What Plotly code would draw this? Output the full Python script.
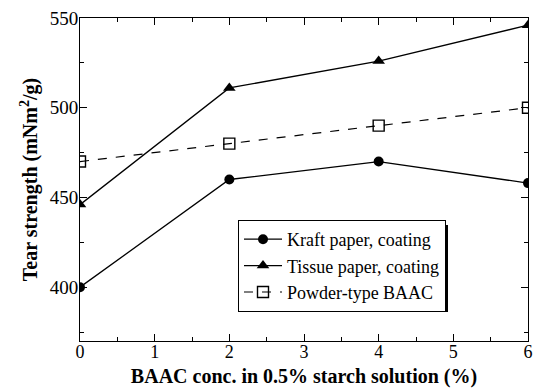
import plotly.graph_objects as go

x_conc = [0, 2, 4, 6]
kraft = [400, 460, 470, 458]
tissue = [446, 511, 526, 546]
powder = [470, 480, 490, 500]

L, R, T, B = 80, 528, 18, 341
W, H = 540, 388

def px_x(p):
    return (p - L) / (R - L)

def px_y(p):
    return (B - p) / (B - T)

fig = go.Figure()
fig.add_trace(go.Scatter(x=x_conc, y=kraft, mode="lines+markers", name="Kraft paper, coating",
                         line=dict(color="black", width=1.3),
                         marker=dict(symbol="circle", size=10, color="black")))
fig.add_trace(go.Scatter(x=x_conc, y=tissue, mode="lines+markers", name="Tissue paper, coating",
                         line=dict(color="black", width=1.3),
                         marker=dict(symbol="triangle-up", size=11, color="black")))
fig.add_trace(go.Scatter(x=x_conc, y=powder, mode="lines+markers", name="Powder-type BAAC",
                         line=dict(color="black", width=1.2, dash="dash"),
                         marker=dict(symbol="square-open", size=11, color="black", line=dict(width=1.4))))

# legend drop shadow
fig.add_shape(type="rect", xref="paper", yref="paper",
              x0=px_x(241), x1=px_x(448), y0=px_y(312), y1=px_y(225),
              fillcolor="black", line=dict(width=0), layer="above")

fig.update_layout(
    width=W, height=H,
    margin=dict(l=L, r=W - R, t=T, b=H - B),
    paper_bgcolor="white", plot_bgcolor="white",
    font=dict(family="Liberation Serif", color="black", size=19),
    showlegend=True,
    legend=dict(x=px_x(238), y=px_y(220), xanchor="left", yanchor="top",
                bordercolor="black", borderwidth=1, bgcolor="white",
                font=dict(family="Liberation Serif", size=18, color="black"),
                tracegroupgap=0, itemwidth=38),
)
fig.update_xaxes(range=[0, 6], tickvals=[0, 1, 2, 3, 4, 5, 6], ticks="inside", ticklen=7,
                 mirror="ticks", showline=True, linecolor="black", linewidth=1,
                 showgrid=False, zeroline=False, tickcolor="black",
                 tickfont=dict(size=18), ticklabelstandoff=-6,
                 minor=dict(dtick=0.5, ticks="inside", ticklen=4, tickcolor="black"),
                 automargin=False,
                 title=dict(text="<b>BAAC conc. in 0.5% starch solution (%)</b>", standoff=10,
                            font=dict(size=20)))
fig.update_yaxes(range=[370, 550], tickvals=[400, 450, 500, 550], ticks="inside", ticklen=7,
                 mirror="ticks", showline=True, linecolor="black", linewidth=1,
                 showgrid=False, zeroline=False, tickcolor="black",
                 tickfont=dict(size=19), ticklabelstandoff=-3,
                 minor=dict(dtick=25, ticks="inside", ticklen=4, tickcolor="black"),
                 automargin=False,
                 title=dict(text="<b>Tear strength (mNm<sup>2</sup>/g)</b>", standoff=6,
                            font=dict(size=20)))
fig.write_html("out.html")
